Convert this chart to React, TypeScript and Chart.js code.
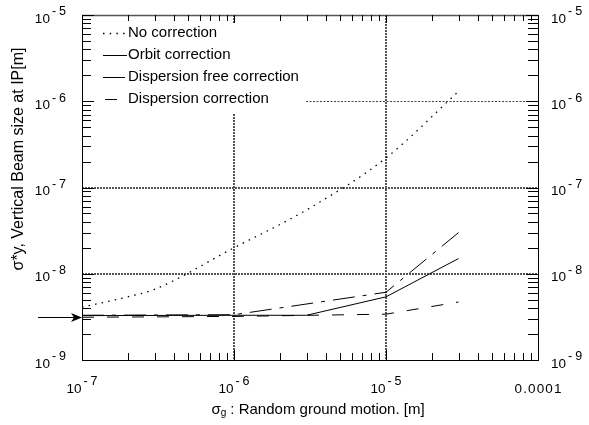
import React, { useEffect, useRef } from "react";
import { Chart, registerables } from "chart.js";

Chart.register(...registerables);

// ---- data ----
const noCorrectionX = [1e-7, 2e-7, 3e-7, 1e-6, 3e-6, 1e-5, 3e-5];
const noCorrectionY = [4.1e-9, 5.4e-9, 6.6e-9, 2.0e-8, 5.5e-8, 2.2e-7, 1.3e-6];

const orbitX = [1e-7, 1e-6, 3e-6, 1e-5, 3e-5];
const orbitY = [3.27e-9, 3.3e-9, 3.3e-9, 5.4e-9, 1.5e-8];

const dispFreeX = [1e-7, 1e-6, 1e-5, 3e-5];
const dispFreeY = [3.3e-9, 3.35e-9, 6.1e-9, 3.0e-8];

const dispX = [1e-7, 1e-6, 1e-5, 3e-5];
const dispY = [3.13e-9, 3.2e-9, 3.4e-9, 4.7e-9];

const seriesLabels = [
  "No correction",
  "Orbit correction",
  "Dispersion free correction",
  "Dispersion correction",
];

const xTickValues = [1e-7, 1e-6, 1e-5, 1e-4];
const xTickLabels = ["10^-7", "10^-6", "10^-5", "0.0001"];
const yTickValues = [1e-9, 1e-8, 1e-7, 1e-6, 1e-5];
const yTickLabels = ["10^-9", "10^-8", "10^-7", "10^-6", "10^-5"];

const xTitle = ["σ", "g", " : Random ground motion. [m]"];
const yTitle = "σ*y, Vertical Beam size at IP[m]";
const arrowValue = 3.15e-9;

const FONT = '"Liberation Sans", Arial, Helvetica, sans-serif';

const dashes = [[1.5, 5.2], [], [22, 8, 4, 8], [12, 13]];

function pts(xs: number[], ys: number[]) {
  return xs.map((x, i) => ({ x, y: ys[i] }));
}

function drawPow(ctx: CanvasRenderingContext2D, label: string, x: number, y: number, align: string) {
  ctx.textBaseline = "middle";
  ctx.fillStyle = "#000";
  if (!label.includes("^")) {
    ctx.font = `13.5px ${FONT}`;
    ctx.textAlign = align as CanvasTextAlign;
    ctx.fillText(label.split("").join(String.fromCharCode(8202)), x, y);
    return;
  }
  const [base, exp] = label.split("^");
  ctx.font = `13.5px ${FONT}`;
  const bw = ctx.measureText(base).width;
  ctx.font = `12.5px ${FONT}`;
  const minus = exp.startsWith("-") ? "-" : "";
  const digits = exp.replace("-", "");
  const mw = ctx.measureText(minus).width;
  const dw = ctx.measureText(digits).width;
  const total = bw + 2 + mw + 3 + dw;
  let left = x;
  if (align === "center") left = x - total / 2;
  if (align === "right") left = x - total;
  ctx.textAlign = "left";
  ctx.font = `13.5px ${FONT}`;
  ctx.fillText(base, left, y + 4);
  ctx.font = `12.5px ${FONT}`;
  ctx.fillText(minus, left + bw + 2, y - 3);
  ctx.fillText(digits, left + bw + 2 + mw + 3, y - 3);
}

const legendBox = { left: 92, top: 23, right: 306, bottom: 113 };

const decor = {
  id: "decor",
  beforeDatasetsDraw(chart: any) {
    const { ctx, chartArea: a, scales } = chart;
    const xs = scales.x;
    const ys = scales.y;
    ctx.save();
    // grid lines
    ctx.strokeStyle = "#555";
    ctx.lineWidth = 2;
    ctx.setLineDash([2, 1]);
    [1e-8, 1e-7].forEach((v) => {
      const py = Math.round(ys.getPixelForValue(v));
      ctx.beginPath();
      ctx.moveTo(a.left, py);
      ctx.lineTo(a.right, py);
      ctx.stroke();
    });
    [1e-6, 1e-5].forEach((v) => {
      const px = Math.round(xs.getPixelForValue(v));
      ctx.beginPath();
      ctx.moveTo(px, a.top);
      ctx.lineTo(px, a.bottom);
      ctx.stroke();
    });
    ctx.lineWidth = 1;
    ctx.strokeStyle = "#444";
    ctx.setLineDash([2, 1.5]);
    {
      const py = Math.round(ys.getPixelForValue(1e-6)) + 0.5;
      ctx.beginPath();
      ctx.moveTo(a.left, py);
      ctx.lineTo(a.right, py);
      ctx.stroke();
    }
    ctx.setLineDash([]);
    // legend background
    ctx.fillStyle = "#fff";
    ctx.fillRect(legendBox.left, legendBox.top, legendBox.right - legendBox.left, legendBox.bottom - legendBox.top);
    ctx.restore();
  },
  afterDraw(chart: any) {
    const { ctx, chartArea: a, scales } = chart;
    const xs = scales.x;
    const ys = scales.y;
    ctx.save();
    ctx.setLineDash([]);
    // frame
    ctx.strokeStyle = "#000";
    ctx.lineWidth = 1;
    ctx.strokeRect(Math.round(a.left) + 0.5, Math.round(a.top) + 0.5, Math.round(a.right - a.left), Math.round(a.bottom - a.top));
    ctx.strokeStyle = "#555";
    ctx.lineWidth = 1.5;
    ctx.beginPath();
    ctx.moveTo(a.left, Math.round(a.top) + 0.5);
    ctx.lineTo(a.right, Math.round(a.top) + 0.5);
    ctx.stroke();
    // minor ticks
    ctx.strokeStyle = "#000";
    ctx.lineWidth = 1;
    for (let d = -9; d < -5; d++) {
      for (let m = 2; m <= 9; m++) {
        const py = Math.round(ys.getPixelForValue(m * Math.pow(10, d))) + 0.5;
        ctx.beginPath();
        ctx.moveTo(a.left, py);
        ctx.lineTo(a.left + 9, py);
        ctx.moveTo(a.right, py);
        ctx.lineTo(a.right - 10, py);
        ctx.stroke();
      }
    }
    for (let d = -7; d < -4; d++) {
      for (let m = 2; m <= 9; m++) {
        const px = Math.round(xs.getPixelForValue(m * Math.pow(10, d))) + 0.5;
        ctx.beginPath();
        ctx.moveTo(px, a.bottom);
        ctx.lineTo(px, a.bottom - 7);
        ctx.moveTo(px, a.top);
        ctx.lineTo(px, a.top + 6);
        ctx.stroke();
      }
    }
    // major ticks
    yTickValues.forEach((v) => {
      const py = Math.round(ys.getPixelForValue(v)) + 0.5;
      ctx.beginPath();
      ctx.moveTo(a.left, py);
      ctx.lineTo(a.left + 12, py);
      ctx.moveTo(a.right, py);
      ctx.lineTo(a.right - 12, py);
      ctx.stroke();
    });
    xTickValues.forEach((v) => {
      const px = Math.round(xs.getPixelForValue(v)) + 0.5;
      ctx.beginPath();
      ctx.moveTo(px, a.bottom);
      ctx.lineTo(px, a.bottom - 10);
      ctx.moveTo(px, a.top);
      ctx.lineTo(px, a.top + 8);
      ctx.stroke();
    });
    // tick labels
    yTickValues.forEach((v, i) => {
      const py = ys.getPixelForValue(v);
      drawPow(ctx, yTickLabels[i], a.left - 16, py, "right");
      drawPow(ctx, yTickLabels[i], a.right + 13, py, "left");
    });
    xTickValues.forEach((v, i) => {
      const px = xs.getPixelForValue(v);
      const lab = xTickLabels[i];
      drawPow(ctx, lab, px, lab.includes("^") ? a.bottom + 25 : a.bottom + 29, "center");
    });
    // axis titles
    ctx.fillStyle = "#000";
    ctx.textBaseline = "middle";
    ctx.font = `15px ${FONT}`;
    const w0 = ctx.measureText(xTitle[0]).width;
    const w2 = ctx.measureText(xTitle[2]).width;
    ctx.font = `10px ${FONT}`;
    const w1 = ctx.measureText(xTitle[1]).width;
    const tw = w0 + w1 + w2;
    let tx = 318 - tw / 2;
    const ty = a.bottom + 50;
    ctx.textAlign = "left";
    ctx.font = `15px ${FONT}`;
    ctx.fillText(xTitle[0], tx, ty);
    ctx.font = `10px ${FONT}`;
    ctx.fillText(xTitle[1], tx + w0, ty + 3);
    ctx.font = `15px ${FONT}`;
    ctx.fillText(xTitle[2], tx + w0 + w1, ty);

    ctx.save();
    ctx.translate(19, 159);
    ctx.rotate(-Math.PI / 2);
    ctx.textAlign = "center";
    ctx.font = `16px ${FONT}`;
    ctx.fillText(yTitle, 0, 0);
    ctx.restore();

    // legend
    const ds = chart.data.datasets;
    ds.forEach((d: any, i: number) => {
      const cy = 33 + i * 22;
      ctx.strokeStyle = "#000";
      ctx.lineWidth = i === 0 ? 1.3 : 1;
      ctx.setLineDash(d.borderDash || []);
      ctx.lineDashOffset = i === 3 ? -2 : 0;
      ctx.beginPath();
      ctx.moveTo(103, cy + 0.5);
      ctx.lineTo(127, cy + 0.5);
      ctx.stroke();
      ctx.setLineDash([]);
      ctx.lineDashOffset = 0;
      ctx.font = `15px ${FONT}`;
      ctx.textAlign = "left";
      ctx.textBaseline = "middle";
      ctx.fillStyle = "#000";
      ctx.fillText(d.label, 128, cy);
    });

    // arrow
    ctx.strokeStyle = "#000";
    ctx.lineWidth = 1;
    const ay = Math.round(ys.getPixelForValue(arrowValue)) + 0.5;
    ctx.beginPath();
    ctx.moveTo(38, ay);
    ctx.lineTo(a.left - 6, ay);
    ctx.stroke();
    ctx.beginPath();
    ctx.moveTo(a.left, ay);
    ctx.lineTo(a.left - 11, ay - 4.5);
    ctx.lineTo(a.left - 8, ay);
    ctx.lineTo(a.left - 11, ay + 4.5);
    ctx.closePath();
    ctx.fillStyle = "#000";
    ctx.fill();
    ctx.restore();
  },
};

export default function App() {
  const ref = useRef<HTMLCanvasElement | null>(null);
  useEffect(() => {
    if (!ref.current) return;
    const all = [
      pts(noCorrectionX, noCorrectionY),
      pts(orbitX, orbitY),
      pts(dispFreeX, dispFreeY),
      pts(dispX, dispY),
    ];
    const chart = new Chart(ref.current, {
      type: "line",
      data: {
        datasets: all.map((data, i) => ({
          label: seriesLabels[i],
          data,
          borderColor: "#000",
          backgroundColor: "#000",
          borderWidth: i === 0 ? 1.3 : 1,
          borderDash: dashes[i],
          pointRadius: 0,
          fill: false,
          cubicInterpolationMode: i === 0 ? "monotone" : "default",
          tension: 0,
        })),
      } as any,
      options: {
        animation: false,
        responsive: false,
        devicePixelRatio: 1,
        layout: { padding: { left: 82, top: 15, right: 51, bottom: 65 } },
        plugins: { legend: { display: false }, tooltip: { enabled: false }, title: { display: false } },
        scales: {
          x: { type: "logarithmic", min: 1e-7, max: 1e-4, display: false },
          y: { type: "logarithmic", min: 1e-9, max: 1e-5, display: false },
        },
        events: [],
      } as any,
      plugins: [decor],
    });
    return () => chart.destroy();
  }, []);
  return (
    <div style={{ position: "absolute", left: 0, top: 0, width: 589, height: 425, background: "#fff" }}>
      <canvas ref={ref} width={589} height={425} style={{ display: "block" }} />
    </div>
  );
}
